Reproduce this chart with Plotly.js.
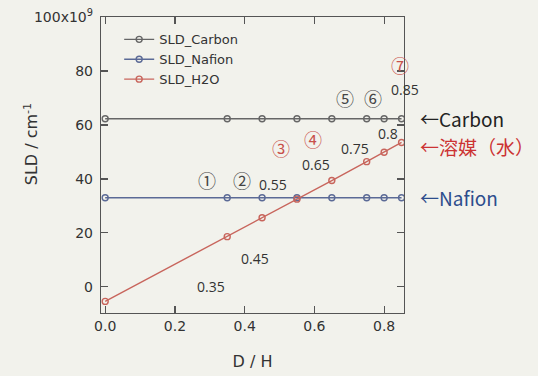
<!DOCTYPE html>
<html><head><meta charset="utf-8">
<script src="https://cdn.plot.ly/plotly-3.0.1.min.js"></script>
<style>html,body{margin:0;padding:0;background:#f2f2ec;}</style>
</head><body>
<div id="chart" style="width:538px;height:376px;"></div>
<script>
var dh = [0, 0.35, 0.45, 0.55, 0.65, 0.75, 0.8, 0.85];
var sldCarbon = [62.3, 62.3, 62.3, 62.3, 62.3, 62.3, 62.3, 62.3];
var sldNafion = [33, 33, 33, 33, 33, 33, 33, 33];
var sldH2O = [-5.4, 18.6, 25.6, 32.5, 39.4, 46.4, 49.9, 53.5];
var seriesNames = ['SLD_Carbon', 'SLD_Nafion', 'SLD_H2O'];
var yTickVals = [0, 20, 40, 60, 80, 100];
var yTickText = ['0', '20', '40', '60', '80', '100x10<sup>9</sup>'];
var xTickVals = [0, 0.2, 0.4, 0.6, 0.8];
var xTickText = ['0.0', '0.2', '0.4', '0.6', '0.8'];
var circled = ['①', '②', '③', '④', '⑤', '⑥', '⑦'];
var ratioLabels = ['0.35', '0.45', '0.55', '0.65', '0.75', '0.8', '0.85'];

var colors = ['#666666', '#5b6a96', '#c8655c'];
var ys = [sldCarbon, sldNafion, sldH2O];
var traces = ys.map(function (y, i) {
  return {
    x: dh, y: y, name: seriesNames[i], type: 'scatter', mode: 'lines+markers',
    line: {color: colors[i], width: 1.4},
    marker: {symbol: 'circle-open', size: 6, color: colors[i], line: {width: 1.4}}
  };
});

var circPos = [[0.292, 39.5], [0.393, 39.5], [0.504, 51.4], [0.596, 54.7], [0.688, 69.9], [0.768, 69.9], [0.845, 82.1]];
var circCol = ['#444', '#444', '#c8504a', '#c8504a', '#444', '#444', '#c8504a'];
var ratioPos = [[0.304, 0.3], [0.43, 10.6], [0.481, 38], [0.605, 45.4], [0.716, 51.4], [0.811, 56.9], [0.85, 73.2]];
var ratioShift = [0, 0, 0, 0, 0, 0, 3];
var ann = [];
circled.forEach(function (c, i) {
  ann.push({x: circPos[i][0], y: circPos[i][1], xref: 'x', yref: 'y', text: c, showarrow: false,
    font: {family: 'Noto Sans CJK JP', size: 18, color: circCol[i]}});
});
ratioLabels.forEach(function (t, i) {
  ann.push({x: ratioPos[i][0], y: ratioPos[i][1], xref: 'x', yref: 'y', xshift: ratioShift[i], text: t, showarrow: false,
    font: {family: 'Open Sans', size: 14, color: '#333'}});
});
var sideLabels = [['←Carbon', 62.3, '#222'], ['←溶媒（水）', 52, '#cc3333'], ['←Nafion', 33, '#2d4d8c']];
sideLabels.forEach(function (s) {
  ann.push({x: 1.045, y: s[1], xref: 'paper', yref: 'y', xanchor: 'left', text: s[0], showarrow: false,
    font: {family: 'Noto Sans CJK JP', size: 19, color: s[2]}});
});
ann.push({x: 0, y: 0.57, xref: 'paper', yref: 'paper', xanchor: 'center', yanchor: 'middle', xshift: -70,
  textangle: -90, text: 'SLD / cm<sup>-1</sup>', showarrow: false,
  font: {family: 'DejaVu Sans', size: 16, color: '#333'}});

var axisCommon = {
  showgrid: false, zeroline: false, showline: true, linecolor: '#555', linewidth: 1.2,
  mirror: 'ticks', ticks: 'inside', ticklen: 7, tickcolor: '#555', tickwidth: 1.2,
  tickfont: {family: 'DejaVu Sans', size: 14, color: '#333'}
};
var layout = {
  width: 538, height: 376,
  margin: {l: 101, r: 134, t: 17, b: 63},
  paper_bgcolor: '#f2f2ec', plot_bgcolor: '#f2f2ec',
  showlegend: true,
  legend: {x: 0.06, y: 0.975, xanchor: 'left', yanchor: 'top', bgcolor: 'rgba(0,0,0,0)',
    font: {family: 'DejaVu Sans', size: 13, color: '#333'}, tracegroupgap: 0},
  xaxis: Object.assign({}, axisCommon, {
    range: [-0.012, 0.857], tickvals: xTickVals, ticktext: xTickText,
    title: {text: 'D / H', font: {family: 'DejaVu Sans', size: 16, color: '#333'}, standoff: 22}
  }),
  yaxis: Object.assign({}, axisCommon, {
    range: [-9.7, 100], tickvals: yTickVals, ticktext: yTickText, ticklabelstandoff: 4
  }),
  annotations: ann
};
Plotly.newPlot('chart', traces, layout, {displayModeBar: false, staticPlot: true});
</script>
</body></html>
